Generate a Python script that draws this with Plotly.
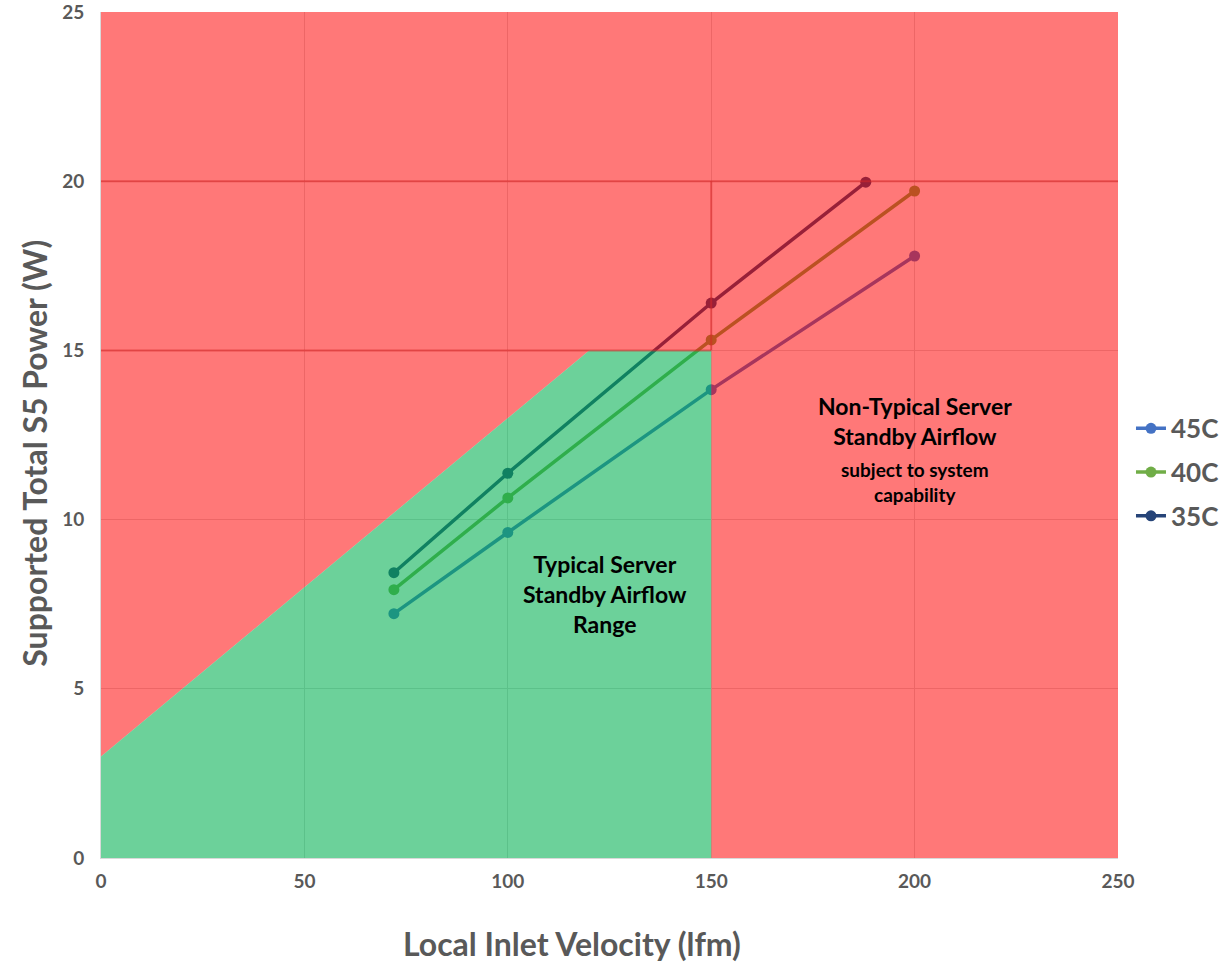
import plotly.graph_objects as go

# Local inlet velocity (lfm) per measured point
vel_45 = [72, 100, 150, 200]
pwr_45 = [7.22, 9.62, 13.84, 17.79]

vel_40 = [72, 100, 150, 200]
pwr_40 = [7.93, 10.64, 15.31, 19.71]

vel_35 = [72, 100, 150, 188]
pwr_35 = [8.43, 11.37, 16.4, 19.97]

# region outlines
typical_x = [0, 0, 120, 150, 150, 0]
typical_y = [0, 3, 15, 15, 0, 0]
nontyp_x = [0, 0, 250, 250, 150, 150, 120, 0]
nontyp_y = [3, 25, 25, 0, 0, 15, 15, 3]

x_ticks = [0, 50, 100, 150, 200, 250]
y_ticks = [0, 5, 10, 15, 20, 25]

grey = "#595959"
font = "Lato"

fig = go.Figure()

for name, xs, ys, col in [("45C", vel_45, pwr_45, "#4472C4"),
                          ("40C", vel_40, pwr_40, "#70AD47"),
                          ("35C", vel_35, pwr_35, "#264478")]:
    fig.add_trace(go.Scatter(
        x=xs, y=ys, name=name, legendgroup=name, mode="lines+markers",
        line=dict(color=col, width=3.5),
        marker=dict(color=col, size=11),
    ))

# translucent zones drawn over the lines (that's what tints them)
fig.add_trace(go.Scatter(
    x=nontyp_x, y=nontyp_y, fill="toself", mode="lines",
    line=dict(width=0), fillcolor="rgba(255,0,0,0.53)",
    showlegend=False, hoverinfo="skip",
))
fig.add_trace(go.Scatter(
    x=typical_x, y=typical_y, fill="toself", mode="lines",
    line=dict(width=0), fillcolor="rgba(0,176,80,0.576)",
    showlegend=False, hoverinfo="skip",
))

# darker boundary lines
edge = dict(color="rgba(215,40,40,0.55)", width=2)
fig.add_shape(type="line", x0=0, x1=250, y0=20, y1=20, line=edge)
fig.add_shape(type="line", x0=0, x1=150, y0=15, y1=15, line=edge)
fig.add_shape(type="line", x0=150, x1=150, y0=15, y1=20, line=edge)

fig.add_annotation(
    x=124, y=7.8, showarrow=False,
    text="<b>Typical Server<br>Standby Airflow<br>Range</b>",
    font=dict(family=font, size=23, color="black"),
)
fig.add_annotation(
    x=200, y=12.9, showarrow=False,
    text="<b>Non-Typical Server<br>Standby Airflow</b>",
    font=dict(family=font, size=23, color="black"),
)
fig.add_annotation(
    x=200, y=11.1, showarrow=False,
    text="<b>subject to system<br>capability</b>",
    font=dict(family=font, size=19, color="black"),
)

# axis titles
fig.add_annotation(
    xref="paper", yref="paper", x=0.463, y=-0.1005, showarrow=False,
    xanchor="center", yanchor="middle",
    text="<b>Local Inlet Velocity (lfm)</b>",
    font=dict(family=font, size=32, color=grey),
)
fig.add_annotation(
    xref="paper", yref="paper", x=-0.065, y=0.479, showarrow=False,
    xanchor="center", yanchor="middle",
    text="<b>Supported Total S5 Power (W)</b>", textangle=-90,
    font=dict(family=font, size=32, color=grey),
)

fig.update_layout(
    width=1228, height=966, autosize=False,
    margin=dict(l=101, r=110, t=12, b=108),
    paper_bgcolor="white", plot_bgcolor="white",
    font=dict(family=font, color=grey),
    legend=dict(xref="container", yref="container",
                x=0.921, y=0.511, xanchor="left", yanchor="middle",
                font=dict(family=font, size=26, color=grey, weight="bold"),
                itemwidth=30, tracegroupgap=7, borderwidth=0),
    xaxis=dict(
        range=[0, 250], tickvals=x_ticks, showgrid=True, gridcolor="#D9D9D9",
        zeroline=False, showline=True, linecolor="#D9D9D9", automargin=False,
        tickfont=dict(size=19, weight="bold", color=grey),
        ticklabelstandoff=6, ticklabeloverflow="allow",
    ),
    yaxis=dict(
        range=[0, 25], tickvals=y_ticks, showgrid=True, gridcolor="#D9D9D9",
        zeroline=False, showline=True, linecolor="#D9D9D9", automargin=False,
        tickfont=dict(size=19, weight="bold", color=grey),
        ticklabelstandoff=12, ticklabeloverflow="allow",
    ),
)

fig.write_html(
    "out.html",
    config={"responsive": False, "displayModeBar": False},
    post_script="document.body.style.margin='0';document.body.style.overflow='hidden';",
)
